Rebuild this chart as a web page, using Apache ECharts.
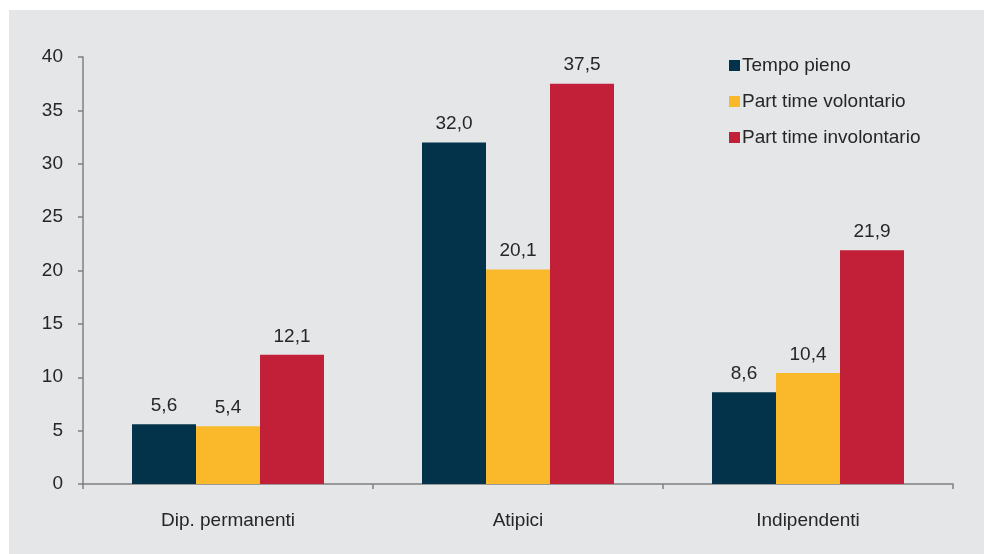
<!DOCTYPE html>
<html>
<head>
<meta charset="utf-8">
<script src="https://cdn.jsdelivr.net/npm/echarts@6/dist/echarts.min.js"></script>
<style>
html,body{margin:0;padding:0;background:#fff;}
#chart{width:984px;height:554px;}
</style>
</head>
<body>
<div id="chart"></div>
<script>
const categories = ['Dip. permanenti', 'Atipici', 'Indipendenti'];
const seriesNames = ['Tempo pieno', 'Part time volontario', 'Part time involontario'];
const tempoPieno = [5.6, 32.0, 8.6];
const partVolontario = [5.4, 20.1, 10.4];
const partInvolontario = [12.1, 37.5, 21.9];
const colors = ['#02334b', '#f9b92b', '#c21f38'];
const yTicks = { min: 0, max: 40, interval: 5 };

const fontFamily = '"Liberation Sans", Arial, sans-serif';
const values = [tempoPieno, partVolontario, partInvolontario];

const chart = echarts.init(document.getElementById('chart'), null, { renderer: 'canvas' });
chart.setOption({
  backgroundColor: '#ffffff',
  animation: false,
  textStyle: { fontFamily: fontFamily },
  graphic: [{
    type: 'rect', left: 9, top: 10, z: -10,
    shape: { width: 975, height: 544 },
    style: { fill: '#e5e6e8' }
  }],
  legend: {
    orient: 'vertical',
    left: 724, top: 51,
    itemWidth: 11, itemHeight: 11, itemGap: 17,
    icon: 'rect',
    textStyle: { fontSize: 19, color: '#262626', fontFamily: fontFamily, padding: [0,0,0,-3] },
    data: seriesNames
  },
  grid: { left: 83, right: 31, top: 57, bottom: 70, containLabel: false },
  xAxis: {
    type: 'category',
    data: categories,
    axisLine: { lineStyle: { color: '#808080', width: 1.5 } },
    axisTick: { show: true, length: 5, alignWithLabel: false, lineStyle: { color: '#808080', width: 1.5 } },
    axisLabel: { fontSize: 19, color: '#262626', margin: 27, fontFamily: fontFamily }
  },
  yAxis: {
    type: 'value',
    min: yTicks.min, max: yTicks.max, interval: yTicks.interval,
    axisLine: { show: true, lineStyle: { color: '#808080', width: 1.5 } },
    axisTick: { show: true, length: 5, lineStyle: { color: '#808080', width: 1.5 } },
    axisLabel: { fontSize: 19, color: '#262626', margin: 20, fontFamily: fontFamily },
    splitLine: { show: false }
  },
  series: seriesNames.map((name, i) => ({
    name: name,
    type: 'bar',
    data: values[i],
    barWidth: 64,
    barGap: '0%',
    itemStyle: { color: colors[i] },
    label: {
      show: true, position: 'top', distance: 9,
      fontSize: 19, color: '#262626', fontFamily: fontFamily,
      formatter: p => p.value.toFixed(1).replace('.', ',')
    }
  }))
});
</script>
</body>
</html>
